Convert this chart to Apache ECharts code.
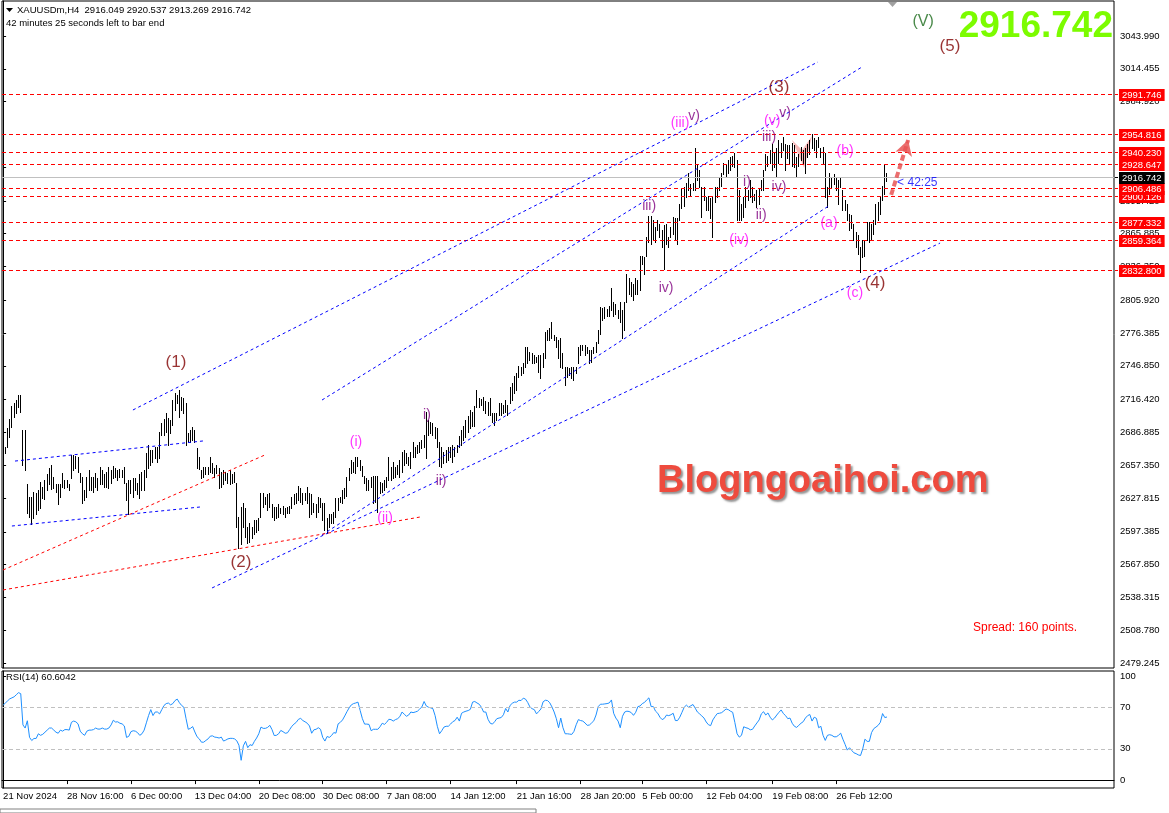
<!DOCTYPE html>
<html><head><meta charset="utf-8">
<script src="https://cdn.jsdelivr.net/npm/echarts/dist/echarts.min.js"></script>
<style>html,body{margin:0;padding:0;background:#fff;}#c{width:1169px;height:813px;}</style>
</head><body><div id="c"></div>
<script>
// ---------- DATA ----------
const symbolTitle = 'XAUUSDm,H4  2916.049 2920.537 2913.269 2916.742';
const timerText = '42 minutes 25 seconds left to bar end';
const barHigh = [
2673,2674,2691,2699,2711,2713,2716,2721,2721,2689,
2689,2640,2629,2629,2633,2632,2635,2642,2638,2644,
2649,2655,2658,2647,2640,2640,2640,2650,2644,2644,
2640,2667,2667,2666,2665,2650,2647,2635,2647,2653,
2647,2647,2650,2646,2656,2653,2649,2651,2656,2653,
2657,2655,2653,2654,2653,2656,2641,2644,2644,2646,
2646,2641,2649,2651,2653,2668,2676,2671,2671,2674,
2674,2687,2695,2699,2704,2700,2698,2716,2722,2721,
2725,2719,2718,2713,2686,2689,2692,2689,2673,2665,
2653,2656,2656,2656,2665,2659,2655,2658,2655,2651,
2653,2651,2650,2653,2649,2651,
2641,2611,2620,2623,2619,2602,2605,2602,2608,2608,
2610,2632,2632,2629,2631,2632,2622,2620,2620,2622,
2619,2621,2619,2620,2621,2629,2631,2632,2639,2637,
2632,2632,2638,2632,2631,2623,2622,2629,2628,2623,
2623,2610,2613,2613,2615,2628,2628,2629,2635,2637,
2647,2655,2662,2660,2665,2665,2662,2657,2648,2646,
2644,2647,2648,2648,2648,2642,2641,2644,2647,2665,
2656,2660,2656,2658,2662,2669,2671,2668,2665,2669,
2678,2674,2676,2678,2680,2685,2705,2698,2696,2695,
2692,2691,2678,2674,2669,2671,2674,2674,2676,2674,
2676,2684,
2689,2693,2698,2702,2707,2705,2711,2725,2718,2717,
2719,2715,2714,2718,2704,2704,2704,2713,2713,2712,
2716,2712,2728,2731,2738,2740,2747,2746,2749,2764,
2764,2759,2758,2757,2755,2757,2757,2758,2777,2779,
2781,2786,2775,2773,2770,2772,2758,2746,2746,2745,
2746,2746,2746,2764,2766,2766,2766,2764,2761,2761,
2764,2768,2779,2800,2799,2800,2798,2801,2817,2804,
2803,2797,2804,2797,2804,2830,2826,2822,2821,2826,
2824,2846,2846,2845,2863,
2882,2882,2878,2872,2878,2875,2869,2874,2875,2863,
2872,2881,2880,2880,2893,2907,2908,2912,2921,2911,
2912,2943,2929,2923,2908,2908,2899,2900,2898,2899,
2908,2908,2917,2921,2930,2929,2932,2935,2936,2939,
2932,2905,2893,2899,2908,2905,2914,2908,2902,2905,
2907,2914,2923,2938,2936,2941,2947,2939,2943,2950,
2948,2953,2947,2946,2946,2948,2946,2935,2938,2944,
2941,2943,2947,2950,2956,2952,2950,2953,2943,2944,
2939,2908,2921,2917,2920,2916,2914,2917,2905,2896,
2893,2884,2883,2875,2867,2865,2854,2860,2860,2876,
2876,2875,2878,2893,2894,2899,2909,2929,2921
];
const barLow = [
2659,2668,2674,2683,2692,2701,2704,2710,2705,2658,
2653,2614,2611,2604,2610,2613,2617,2619,2628,2627,
2635,2640,2636,2637,2633,2622,2629,2638,2637,2638,
2635,2646,2653,2655,2651,2642,2623,2626,2629,2635,
2635,2633,2638,2635,2640,2640,2638,2638,2637,2641,
2646,2647,2644,2647,2647,2641,2626,2613,2632,2629,
2635,2631,2628,2635,2635,2647,2655,2658,2660,2664,
2660,2664,2685,2685,2687,2676,2686,2694,2707,2713,
2701,2707,2704,2676,2678,2678,2680,2678,2655,2654,
2646,2647,2649,2649,2651,2650,2647,2650,2637,2638,
2640,2644,2641,2640,2641,2642,
2602,2583,2586,2602,2593,2587,2588,2592,2595,2597,
2599,2611,2620,2622,2617,2620,2611,2608,2610,2611,
2614,2613,2611,2614,2614,2619,2622,2623,2626,2624,
2622,2626,2623,2611,2613,2615,2611,2615,2620,2608,
2599,2596,2602,2605,2605,2611,2617,2624,2623,2628,
2630,2644,2650,2651,2650,2657,2653,2648,2641,2635,
2635,2638,2623,2624,2615,2632,2633,2635,2638,2644,
2644,2646,2647,2649,2647,2651,2658,2659,2658,2655,
2665,2665,2668,2669,2673,2674,2664,2685,2686,2685,
2682,2674,2657,2656,2659,2660,2662,2665,2660,2666,
2669,2674,
2676,2680,2683,2687,2691,2693,2693,2710,2710,2712,
2707,2704,2703,2703,2696,2694,2698,2703,2703,2704,
2705,2703,2713,2716,2722,2725,2737,2739,2740,2746,
2749,2752,2749,2749,2750,2741,2736,2746,2754,2770,
2770,2772,2770,2764,2754,2746,2745,2730,2737,2739,
2736,2734,2740,2749,2757,2761,2757,2758,2749,2750,
2758,2759,2767,2776,2788,2790,2792,2792,2797,2792,
2794,2790,2786,2772,2779,2804,2812,2810,2806,2812,
2812,2815,2839,2830,2846,
2858,2857,2860,2858,2869,2863,2854,2834,2857,2854,
2863,2866,2860,2857,2878,2889,2891,2899,2905,2900,
2905,2905,2914,2908,2881,2896,2887,2887,2880,2863,
2894,2899,2905,2909,2920,2918,2921,2923,2927,2926,
2878,2878,2878,2881,2890,2896,2899,2894,2896,2890,
2893,2905,2905,2923,2927,2930,2923,2926,2918,2930,
2935,2941,2923,2934,2930,2927,2926,2917,2927,2932,
2930,2921,2935,2938,2943,2941,2935,2944,2935,2929,
2899,2890,2902,2908,2911,2905,2893,2908,2887,2887,
2878,2869,2871,2860,2854,2848,2831,2845,2846,2860,
2858,2860,2866,2875,2878,2884,2896,2902,2913
];
const rsiValues = [
72,74,76,78,79,80,82,84,83,53,
50,57,41,38,40,40,44.5,43,44,46,
48,50,50,48,46,45,48,47,48.5,48.5,
48,55.5,56.7,56,54,47,44.5,43,47,48,
48,48.5,50,49,49,50,49,49,50,53,
57.5,55.8,56,54.6,54,52,41,42,46.5,47.4,
47,45.6,43,44.5,48,55,62,67.7,62,65.4,
65.4,63.6,67.7,71.7,73.5,74,72.3,73.5,76.4,77.8,
74.3,71.7,70,59,48.8,49.7,51.4,46.2,41.6,39.6,
36.4,36.4,38.1,39.6,42.2,42.5,41.3,41,40.4,41.3,
37.5,38.4,39.6,40.1,40.1,39.6,37.8,33.5,19,32.9,
37.2,31.1,34,33.2,37.2,40.4,44.5,50.9,49.7,49.7,
50.6,52.6,48.5,42.8,43,44.5,47.7,46.5,45,45.4,
48.5,51.7,53.8,55.5,58.4,59.3,57.2,56,54.6,52,
45,48.3,48.8,50.3,48.8,41,37.5,41.9,41,42.8,
45.6,45.1,54,55.5,57.8,61.6,65.7,69.4,72.3,73.5,
74.1,74.9,66.8,59,53.8,53.8,53.5,47.4,48.8,48.8,
48.8,51.2,54.6,53.5,55.5,58.4,58.1,56.7,58.1,59,
61,65.4,63.3,61.3,62.5,65.4,64.8,65.4,66.2,68.3,
70.3,75.5,71.2,70,69.4,68.6,61.9,51.7,44.5,47.4,
50.9,51.7,51.7,53.8,56.1,57.2,60.4,56.7,64.2,65.4,
66.2,66.8,68,74.9,75.5,74.1,72.9,70,65.4,65.4,
58.4,54.6,53.8,56.1,59,59.6,60.1,62.8,68.8,65.4,
71.7,73.8,74.9,74.9,76.7,76.4,78.7,77.8,74.6,70.3,
68.6,67.7,63.6,65.9,68.3,75.2,76.7,76.4,74.3,70.3,
65.4,59,50.3,59.6,50.3,44.5,44.5,44.2,43.9,46.8,
53.2,58.1,57.2,56.7,54.9,52.6,52.9,54.9,57,62.5,
70.6,72.9,72.9,73.2,73.5,74.1,77,64.2,59.6,56.7,
50.3,61.3,65.4,66.2,65.9,64.8,62.2,65.1,70.6,71.2,
73.5,74.6,77,79,70.6,70.6,66.2,64.2,60.4,58.1,
59.3,62.5,61.9,62.8,64.2,57.2,57.2,60.4,65.1,70,
72,70,71.4,72.6,69.1,65.4,63.6,61.6,59.6,55.8,
53.2,52.3,57.8,61,63.9,64.2,64.8,66.5,68.3,67.7,
66.2,65.1,55.2,44.5,41.3,43,51.2,50.3,49.7,48.3,
48.8,52,54.9,57.8,63.6,65.7,62.5,64.5,60.4,57.8,
59.6,62.5,65.1,67.4,63.9,61.9,59,59.6,54.6,51.7,
50.6,52.6,54.6,56.1,59.6,61.9,63,56.7,60.4,59.3,
50.3,51.7,43,38.1,43,43.6,43,41.6,41.6,43,
45.1,39.3,34.3,28.8,31.1,28.5,26.2,25.4,24.2,23.6,
30,39.3,37.2,37.2,45.6,49.4,50.9,52.6,55.5,63.9,
60.1,60.6
];
const rsiLabel = 'RSI(14) 60.6042';
const priceTicks = [3043.990,3014.455,2984.920,2955.385,2925.850,2895.420,2865.885,2836.350,2805.920,2776.385,2746.850,2716.420,2686.885,2657.350,2627.815,2597.385,2567.850,2538.315,2508.780,2479.245];
const rsiTicks = [0,30,70,100];
const rsiLevels = [70,30];
const dateLabels = ['21 Nov 2024','28 Nov 16:00','6 Dec 00:00','13 Dec 04:00','20 Dec 08:00','30 Dec 08:00','7 Jan 08:00','14 Jan 12:00','21 Jan 16:00','28 Jan 20:00','5 Feb 00:00','12 Feb 04:00','19 Feb 08:00','26 Feb 12:00'];
const dateIdx = [0,29,58,87,116,145,174,203,233,262,290,319,349,378];
const levels = [2832.800,2859.364,2877.332,2900.126,2906.486,2928.647,2940.230,2954.816,2991.746];
const lastPrice = 2916.742;
const spreadText = 'Spread: 160 points.';
const watermark = 'Blogngoaihoi.com';
// wave labels: text, bar index, price, colour key, size
const waveLabels = [
 ['(1)',78.4,2750.3,'m',17],['(2)',107.9,2570.2,'m',17],['(3)',352.0,2998.0,'m',17],
 ['(4)',395.6,2821.5,'m',17],['(5)',429.6,3035.0,'m',17],['(V)',417.4,3056.6,'g',16],
 ['(i)',160.1,2678.3,'p',14],['(ii)',173.3,2609.8,'p',14],['(iii)',307.1,2965.6,'p',14],
 ['(iv)',333.9,2860.2,'p',14],['(v)',348.9,2967.4,'p',14],['(a)',374.7,2875.5,'p',14],
 ['(b)',382.0,2940.4,'p',14],['(c)',386.5,2812.5,'p',14],
 ['i)',192.3,2702.6,'v',14],['ii)',198.7,2643.2,'v',14],['iii)',293.1,2890.8,'v',14],
 ['iv)',300.8,2817.0,'v',14],['v)',313.5,2971.9,'v',14],['i)',337.5,2912.5,'v',14],
 ['ii)',343.9,2882.7,'v',14],['iii)',347.5,2953.0,'v',14],['iv)',352.0,2908.0,'v',14],
 ['v)',354.8,2974.6,'v',14]
];
// trend lines: idx1, price1, idx2, price2, colour key
const trendLines = [
 [58.9,2707.1,369.7,3020.6,'b'],[144.7,2716.1,389.7,3016.1,'b'],
 [94.8,2546.8,425.1,2857.5,'b'],[144.7,2594.5,375.2,2891.7,'b'],
 [5.4,2661.1,90.7,2679.2,'b'],[4.0,2602.6,89.3,2619.7,'b'],
 [0,2563.0,118.8,2666.6,'r'],[0,2545.0,189.2,2610.7,'r']
];
const patternTris = [[357.9,2950.3,362.5,2941.3,363.4,2925.1],[362.5,2941.3,367.0,2953.9,363.4,2925.1]];
const arrowLine = [402.9,2900.8,410.6,2950.3];
const timerLabel = ['< 42:25',405.6,2911.6];

// ---------- CHART ----------
const UI = '"Liberation Sans", Arial, sans-serif';
const FS = 9.5;
const COLORS = {m:'#800000', g:'#1B6B1B', p:'#FF00FF', v:'#800080', b:'#0000FF', r:'#FF0000'};
const chart = echarts.init(document.getElementById('c'));

const barData = barHigh.map((h,i)=>[i,h,barLow[i]]);
const rsiData = rsiValues.map((v,i)=>[i,v]);
const levelData = levels.map(v=>[0,v,0]).concat([[0,lastPrice,1]]);

const trendMarks = trendLines.map(t=>[
  {coord:[t[0],t[1]],lineStyle:{color:COLORS[t[4]],type:[3,3],width:1},label:{show:false}},
  {coord:[t[2],t[3]]}
]);

function renderLevel(params, api){
  const v = api.value(1);
  const isLast = api.value(2) === 1;
  const cs = params.coordSys;
  const yc = api.coord([0, v])[1];
  const row = isLast ? Math.round(yc) : 2*Math.round(yc/2);
  const y = row + 0.5;
  return {type:'group', children:[
    {type:'line', shape:{x1:cs.x, y1:y, x2:cs.x+cs.width, y2:y},
     style:{stroke:isLast?'#C0C0C0':'#FF0000', lineWidth:1, lineDash:isLast?null:[4,3]}},
    {type:'rect', shape:{x:cs.x+cs.width+1, y:row, width:3, height:1}, style:{fill:isLast?'#000':'#FF0000'}},
    {type:'text', x:cs.x+cs.width+5, y:row-5,
     style:{text:v.toFixed(3), fill:'#fff', backgroundColor:isLast?'#000':'#FF0000',
            padding:[1,3,0,3], font:FS+'px '+UI, lineHeight:11, align:'left', verticalAlign:'top'}}
  ]};
}

const option = {
  animation:false,
  backgroundColor:'#fff',
  grid:[
    {left:2,top:1,width:1112,height:667,show:true,borderColor:'#000',borderWidth:1,backgroundColor:'transparent',outerBoundsMode:'none'},
    {left:2,top:671,width:1112,height:117,show:true,borderColor:'#000',borderWidth:1,backgroundColor:'transparent',outerBoundsMode:'none'}
  ],
  xAxis:[
    {type:'value',gridIndex:0,min:-0.5,max:504,show:false},
    {type:'value',gridIndex:1,min:-0.5,max:504,position:'bottom',
     axisLine:{show:true,lineStyle:{color:'#000'}},
     axisTick:{show:true,customValues:dateIdx,length:4,lineStyle:{color:'#000'}},
     axisLabel:{show:true,customValues:dateIdx,formatter:v=>dateLabels[dateIdx.indexOf(v)],align:'left',margin:3,
                color:'#000',fontSize:FS,fontFamily:UI,hideOverlap:false},
     splitLine:{show:false}}
  ],
  yAxis:[
    {type:'value',gridIndex:0,position:'right',min:2474.7,max:3075.5,
     axisLine:{show:true,lineStyle:{color:'#000'}},
     axisTick:{show:true,customValues:priceTicks,length:3,lineStyle:{color:'#000'}},
     axisLabel:{show:true,customValues:priceTicks,formatter:v=>v.toFixed(3),color:'#000',fontSize:FS,fontFamily:UI,margin:6},
     splitLine:{show:false}},
    {type:'value',gridIndex:1,position:'right',min:-7.6,max:104.8,
     axisLine:{show:true,lineStyle:{color:'#000'}},
     axisTick:{show:true,customValues:rsiTicks,length:3,lineStyle:{color:'#000'}},
     axisLabel:{show:true,customValues:rsiTicks,formatter:v=>String(v),color:'#000',fontSize:FS,fontFamily:UI,margin:6},
     splitLine:{show:false}}
  ],
  series:[
    {type:'custom',name:'trend',xAxisIndex:0,yAxisIndex:0,data:[],renderItem:()=>null,z:2,
     markLine:{silent:true,symbol:['none','none'],animation:false,data:trendMarks}},
    {type:'custom',name:'pattern',xAxisIndex:0,yAxisIndex:0,z:2,silent:true,
     data:patternTris,
     renderItem:(params,api)=>{
       const pts=[api.coord([api.value(0),api.value(1)]),api.coord([api.value(2),api.value(3)]),api.coord([api.value(4),api.value(5)])];
       return {type:'polygon',shape:{points:pts},style:{fill:'rgba(244,160,160,0.75)'}};
     }},
    {type:'custom',name:'bars',xAxisIndex:0,yAxisIndex:0,z:3,silent:true,
     data:barData,encode:{x:0,y:[1,2]},
     renderItem:(params,api)=>{
       const t=api.coord([api.value(0),api.value(1)]);
       const b=api.coord([api.value(0),api.value(2)]);
       const x=Math.floor(t[0]);
       const y0=Math.round(t[1]), y1=Math.round(b[1]);
       return {type:'rect',shape:{x:x,y:y0,width:1,height:Math.max(1,y1-y0+1)},style:{fill:'#000'}};
     }},
    {type:'custom',name:'levels',xAxisIndex:0,yAxisIndex:0,z:4,silent:true,clip:false,
     data:levelData,encode:{x:0,y:1},renderItem:renderLevel},
    {type:'custom',name:'arrow',xAxisIndex:0,yAxisIndex:0,data:[],renderItem:()=>null,z:5,
     markLine:{silent:true,symbol:['none','arrow'],symbolSize:[13,15],animation:false,
       data:[[{coord:[arrowLine[0],arrowLine[1]],lineStyle:{color:'rgba(232,85,85,0.85)',width:4,type:[6,3]},label:{show:false}},
              {coord:[arrowLine[2],arrowLine[3]]}]]}},
    {type:'scatter',name:'labels',xAxisIndex:0,yAxisIndex:0,symbolSize:0,z:6,silent:true,
     data:waveLabels.map(w=>({value:[w[1],w[2]],label:{formatter:w[0],color:COLORS[w[3]],fontSize:w[4]}})),
     label:{show:true,position:'inside',fontFamily:UI}},
    {type:'scatter',name:'timer',xAxisIndex:0,yAxisIndex:0,symbolSize:0,z:6,silent:true,
     data:[{value:[timerLabel[1],timerLabel[2]]}],
     label:{show:true,position:'inside',formatter:timerLabel[0],color:'#0000FF',fontSize:12,fontFamily:UI,align:'left'}},
    {type:'line',name:'rsi',xAxisIndex:1,yAxisIndex:1,data:rsiData,showSymbol:false,z:3,
     lineStyle:{color:'#1E90FF',width:1},
     markLine:{silent:true,symbol:['none','none'],animation:false,
       data:rsiLevels.map(v=>({yAxis:v,lineStyle:{color:'#C0C0C0',type:[4,3],width:1},label:{show:false}}))}}
  ],
  graphic:[
    {type:'polygon',shape:{points:[[6,8],[13,8],[9.5,12]]},style:{fill:'#000'}},
    {type:'text',left:17,top:5,style:{text:symbolTitle,font:FS+'px '+UI,fill:'#000'}},
    {type:'text',left:6,top:18,style:{text:timerText,font:FS+'px '+UI,fill:'#000'}},
    {type:'text',left:6,top:672,style:{text:rsiLabel,font:FS+'px '+UI,fill:'#000'}},
    {type:'polygon',shape:{points:[[888,2],[897,2],[892.5,7]]},style:{fill:'#A0A0A0'}},
    {type:'text',right:56,top:8,style:{text:lastPrice.toFixed(3),font:'bold 37px '+UI,fill:'#7CFC00'}},
    {type:'text',left:973,top:622,style:{text:spreadText,font:'12px '+UI,fill:'#FF0000'}},
    {type:'text',left:657,top:463,style:{text:watermark,font:'bold 38px '+UI,fill:'#EE4B3E',
       textShadowColor:'rgba(60,60,60,0.55)',textShadowOffsetX:2,textShadowOffsetY:2,textShadowBlur:2}},
    {type:'rect',shape:{x:0,y:809,width:536,height:4},style:{fill:'#fff',stroke:'#808080',lineWidth:1}}
  ]
};
chart.setOption(option);
</script></body></html>
